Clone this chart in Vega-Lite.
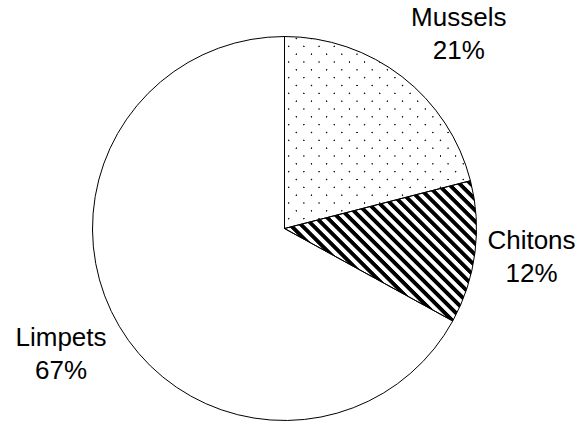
{
  "$schema": "https://vega.github.io/schema/vega-lite/v6.json",
  "autosize": "none",
  "width": 569,
  "height": 385,
  "padding": {"left": 0, "top": 36, "right": 12, "bottom": 2},
  "background": "white",
  "config": {"view": {"stroke": null}},
  "data": {
    "values": [
      {"taxon": "Mussels", "share": 21},
      {"taxon": "Chitons", "share": 12},
      {"taxon": "Limpets", "share": 67}
    ]
  },
  "transform": [
    {"window": [{"op": "row_number", "as": "n"}]},
    {"calculate": "datum.taxon + '\\n' + format(datum.share, 'd') + '%'", "as": "label"}
  ],
  "encoding": {
    "theta": {"field": "share", "type": "quantitative", "stack": true},
    "order": {"field": "n", "type": "quantitative"},
    "detail": {"field": "taxon", "type": "nominal"}
  },
  "layer": [
    {
      "mark": {"type": "arc", "outerRadius": 192, "strokeWidth": 0},
      "encoding": {
        "fill": {
          "condition": [
            {
              "test": "datum.taxon === 'Chitons'",
              "value": {
                "gradient": "linear",
                "x1": 0, "y1": 1, "x2": 1.1283, "y2": 0.1755,
                "stops": [
                  {"offset": 0, "color": "#000"}, {"offset": 0.0133, "color": "#000"}, {"offset": 0.0167, "color": "#fff"}, {"offset": 0.03, "color": "#fff"},
                  {"offset": 0.0333, "color": "#000"}, {"offset": 0.0466, "color": "#000"}, {"offset": 0.05, "color": "#fff"}, {"offset": 0.0633, "color": "#fff"},
                  {"offset": 0.0667, "color": "#000"}, {"offset": 0.08, "color": "#000"}, {"offset": 0.0834, "color": "#fff"}, {"offset": 0.0967, "color": "#fff"},
                  {"offset": 0.1, "color": "#000"}, {"offset": 0.1133, "color": "#000"}, {"offset": 0.1167, "color": "#fff"}, {"offset": 0.13, "color": "#fff"},
                  {"offset": 0.1333, "color": "#000"}, {"offset": 0.1466, "color": "#000"}, {"offset": 0.15, "color": "#fff"}, {"offset": 0.1633, "color": "#fff"},
                  {"offset": 0.1667, "color": "#000"}, {"offset": 0.18, "color": "#000"}, {"offset": 0.1834, "color": "#fff"}, {"offset": 0.1967, "color": "#fff"},
                  {"offset": 0.2, "color": "#000"}, {"offset": 0.2133, "color": "#000"}, {"offset": 0.2167, "color": "#fff"}, {"offset": 0.23, "color": "#fff"},
                  {"offset": 0.2333, "color": "#000"}, {"offset": 0.2466, "color": "#000"}, {"offset": 0.25, "color": "#fff"}, {"offset": 0.2633, "color": "#fff"},
                  {"offset": 0.2667, "color": "#000"}, {"offset": 0.28, "color": "#000"}, {"offset": 0.2834, "color": "#fff"}, {"offset": 0.2967, "color": "#fff"},
                  {"offset": 0.3, "color": "#000"}, {"offset": 0.3133, "color": "#000"}, {"offset": 0.3167, "color": "#fff"}, {"offset": 0.33, "color": "#fff"},
                  {"offset": 0.3333, "color": "#000"}, {"offset": 0.3466, "color": "#000"}, {"offset": 0.35, "color": "#fff"}, {"offset": 0.3633, "color": "#fff"},
                  {"offset": 0.3667, "color": "#000"}, {"offset": 0.38, "color": "#000"}, {"offset": 0.3834, "color": "#fff"}, {"offset": 0.3967, "color": "#fff"},
                  {"offset": 0.4, "color": "#000"}, {"offset": 0.4133, "color": "#000"}, {"offset": 0.4167, "color": "#fff"}, {"offset": 0.43, "color": "#fff"},
                  {"offset": 0.4333, "color": "#000"}, {"offset": 0.4466, "color": "#000"}, {"offset": 0.45, "color": "#fff"}, {"offset": 0.4633, "color": "#fff"},
                  {"offset": 0.4667, "color": "#000"}, {"offset": 0.48, "color": "#000"}, {"offset": 0.4834, "color": "#fff"}, {"offset": 0.4967, "color": "#fff"},
                  {"offset": 0.5, "color": "#000"}, {"offset": 0.5133, "color": "#000"}, {"offset": 0.5167, "color": "#fff"}, {"offset": 0.53, "color": "#fff"},
                  {"offset": 0.5333, "color": "#000"}, {"offset": 0.5466, "color": "#000"}, {"offset": 0.55, "color": "#fff"}, {"offset": 0.5633, "color": "#fff"},
                  {"offset": 0.5667, "color": "#000"}, {"offset": 0.58, "color": "#000"}, {"offset": 0.5834, "color": "#fff"}, {"offset": 0.5967, "color": "#fff"},
                  {"offset": 0.6, "color": "#000"}, {"offset": 0.6133, "color": "#000"}, {"offset": 0.6167, "color": "#fff"}, {"offset": 0.63, "color": "#fff"},
                  {"offset": 0.6333, "color": "#000"}, {"offset": 0.6466, "color": "#000"}, {"offset": 0.65, "color": "#fff"}, {"offset": 0.6633, "color": "#fff"},
                  {"offset": 0.6667, "color": "#000"}, {"offset": 0.68, "color": "#000"}, {"offset": 0.6834, "color": "#fff"}, {"offset": 0.6967, "color": "#fff"},
                  {"offset": 0.7, "color": "#000"}, {"offset": 0.7133, "color": "#000"}, {"offset": 0.7167, "color": "#fff"}, {"offset": 0.73, "color": "#fff"},
                  {"offset": 0.7333, "color": "#000"}, {"offset": 0.7466, "color": "#000"}, {"offset": 0.75, "color": "#fff"}, {"offset": 0.7633, "color": "#fff"},
                  {"offset": 0.7667, "color": "#000"}, {"offset": 0.78, "color": "#000"}, {"offset": 0.7834, "color": "#fff"}, {"offset": 0.7967, "color": "#fff"},
                  {"offset": 0.8, "color": "#000"}, {"offset": 0.8133, "color": "#000"}, {"offset": 0.8167, "color": "#fff"}, {"offset": 0.83, "color": "#fff"},
                  {"offset": 0.8333, "color": "#000"}, {"offset": 0.8466, "color": "#000"}, {"offset": 0.85, "color": "#fff"}, {"offset": 0.8633, "color": "#fff"},
                  {"offset": 0.8667, "color": "#000"}, {"offset": 0.88, "color": "#000"}, {"offset": 0.8834, "color": "#fff"}, {"offset": 0.8967, "color": "#fff"},
                  {"offset": 0.9, "color": "#000"}, {"offset": 0.9133, "color": "#000"}, {"offset": 0.9167, "color": "#fff"}, {"offset": 0.93, "color": "#fff"},
                  {"offset": 0.9333, "color": "#000"}, {"offset": 0.9466, "color": "#000"}, {"offset": 0.95, "color": "#fff"}, {"offset": 0.9633, "color": "#fff"},
                  {"offset": 0.9667, "color": "#000"}, {"offset": 0.98, "color": "#000"}, {"offset": 0.9834, "color": "#fff"}, {"offset": 0.9967, "color": "#fff"},
                  {"offset": 1, "color": "#000"}
                ]
              }
            },
            {"test": "datum.taxon === 'Mussels'", "value": "#1a1a1a"}
          ],
          "value": "#fff"
        }
      }
    },
    {
      "mark": {"type": "arc", "outerRadius": 192, "strokeWidth": 0},
      "encoding": {
        "fill": {
          "condition": {
            "test": "datum.taxon === 'Mussels'",
            "value": {
              "gradient": "linear",
              "x1": 0, "y1": 0, "x2": 1, "y2": 1,
              "stops": [
                {"offset": 0, "color": "#fff"}, {"offset": 0.033, "color": "#fff"}, {"offset": 0.0356, "color": "rgba(255,255,255,0)"}, {"offset": 0.0382, "color": "rgba(255,255,255,0)"},
                {"offset": 0.0408, "color": "#fff"}, {"offset": 0.0738, "color": "#fff"}, {"offset": 0.0764, "color": "rgba(255,255,255,0)"}, {"offset": 0.079, "color": "rgba(255,255,255,0)"},
                {"offset": 0.0816, "color": "#fff"}, {"offset": 0.1146, "color": "#fff"}, {"offset": 0.1172, "color": "rgba(255,255,255,0)"}, {"offset": 0.1198, "color": "rgba(255,255,255,0)"},
                {"offset": 0.1224, "color": "#fff"}, {"offset": 0.1554, "color": "#fff"}, {"offset": 0.158, "color": "rgba(255,255,255,0)"}, {"offset": 0.1606, "color": "rgba(255,255,255,0)"},
                {"offset": 0.1632, "color": "#fff"}, {"offset": 0.1962, "color": "#fff"}, {"offset": 0.1988, "color": "rgba(255,255,255,0)"}, {"offset": 0.2014, "color": "rgba(255,255,255,0)"},
                {"offset": 0.204, "color": "#fff"}, {"offset": 0.237, "color": "#fff"}, {"offset": 0.2396, "color": "rgba(255,255,255,0)"}, {"offset": 0.2422, "color": "rgba(255,255,255,0)"},
                {"offset": 0.2448, "color": "#fff"}, {"offset": 0.2778, "color": "#fff"}, {"offset": 0.2804, "color": "rgba(255,255,255,0)"}, {"offset": 0.283, "color": "rgba(255,255,255,0)"},
                {"offset": 0.2856, "color": "#fff"}, {"offset": 0.3186, "color": "#fff"}, {"offset": 0.3212, "color": "rgba(255,255,255,0)"}, {"offset": 0.3238, "color": "rgba(255,255,255,0)"},
                {"offset": 0.3264, "color": "#fff"}, {"offset": 0.3594, "color": "#fff"}, {"offset": 0.362, "color": "rgba(255,255,255,0)"}, {"offset": 0.3646, "color": "rgba(255,255,255,0)"},
                {"offset": 0.3672, "color": "#fff"}, {"offset": 0.4002, "color": "#fff"}, {"offset": 0.4028, "color": "rgba(255,255,255,0)"}, {"offset": 0.4054, "color": "rgba(255,255,255,0)"},
                {"offset": 0.408, "color": "#fff"}, {"offset": 0.441, "color": "#fff"}, {"offset": 0.4436, "color": "rgba(255,255,255,0)"}, {"offset": 0.4462, "color": "rgba(255,255,255,0)"},
                {"offset": 0.4488, "color": "#fff"}, {"offset": 0.4818, "color": "#fff"}, {"offset": 0.4844, "color": "rgba(255,255,255,0)"}, {"offset": 0.487, "color": "rgba(255,255,255,0)"},
                {"offset": 0.4896, "color": "#fff"}, {"offset": 0.5226, "color": "#fff"}, {"offset": 0.5252, "color": "rgba(255,255,255,0)"}, {"offset": 0.5278, "color": "rgba(255,255,255,0)"},
                {"offset": 0.5304, "color": "#fff"}, {"offset": 0.5634, "color": "#fff"}, {"offset": 0.566, "color": "rgba(255,255,255,0)"}, {"offset": 0.5686, "color": "rgba(255,255,255,0)"},
                {"offset": 0.5712, "color": "#fff"}, {"offset": 0.6042, "color": "#fff"}, {"offset": 0.6068, "color": "rgba(255,255,255,0)"}, {"offset": 0.6094, "color": "rgba(255,255,255,0)"},
                {"offset": 0.612, "color": "#fff"}, {"offset": 0.645, "color": "#fff"}, {"offset": 0.6476, "color": "rgba(255,255,255,0)"}, {"offset": 0.6502, "color": "rgba(255,255,255,0)"},
                {"offset": 0.6528, "color": "#fff"}, {"offset": 0.6858, "color": "#fff"}, {"offset": 0.6884, "color": "rgba(255,255,255,0)"}, {"offset": 0.691, "color": "rgba(255,255,255,0)"},
                {"offset": 0.6936, "color": "#fff"}, {"offset": 0.7266, "color": "#fff"}, {"offset": 0.7292, "color": "rgba(255,255,255,0)"}, {"offset": 0.7318, "color": "rgba(255,255,255,0)"},
                {"offset": 0.7344, "color": "#fff"}, {"offset": 0.7674, "color": "#fff"}, {"offset": 0.77, "color": "rgba(255,255,255,0)"}, {"offset": 0.7726, "color": "rgba(255,255,255,0)"},
                {"offset": 0.7752, "color": "#fff"}, {"offset": 0.8082, "color": "#fff"}, {"offset": 0.8108, "color": "rgba(255,255,255,0)"}, {"offset": 0.8134, "color": "rgba(255,255,255,0)"},
                {"offset": 0.816, "color": "#fff"}, {"offset": 0.849, "color": "#fff"}, {"offset": 0.8516, "color": "rgba(255,255,255,0)"}, {"offset": 0.8542, "color": "rgba(255,255,255,0)"},
                {"offset": 0.8568, "color": "#fff"}, {"offset": 0.8898, "color": "#fff"}, {"offset": 0.8924, "color": "rgba(255,255,255,0)"}, {"offset": 0.895, "color": "rgba(255,255,255,0)"},
                {"offset": 0.8976, "color": "#fff"}, {"offset": 0.9306, "color": "#fff"}, {"offset": 0.9332, "color": "rgba(255,255,255,0)"}, {"offset": 0.9358, "color": "rgba(255,255,255,0)"},
                {"offset": 0.9384, "color": "#fff"}, {"offset": 0.9714, "color": "#fff"}, {"offset": 0.974, "color": "rgba(255,255,255,0)"}, {"offset": 0.9766, "color": "rgba(255,255,255,0)"},
                {"offset": 0.9792, "color": "#fff"}, {"offset": 1, "color": "#fff"}
              ]
            }
          },
          "value": "transparent"
        }
      }
    },
    {
      "mark": {"type": "arc", "outerRadius": 192, "strokeWidth": 0},
      "encoding": {
        "fill": {
          "condition": {
            "test": "datum.taxon === 'Mussels'",
            "value": {
              "gradient": "linear",
              "x1": 0, "y1": 1, "x2": 1, "y2": 0,
              "stops": [
                {"offset": 0, "color": "#fff"}, {"offset": 0.033, "color": "#fff"}, {"offset": 0.0356, "color": "rgba(255,255,255,0)"}, {"offset": 0.0382, "color": "rgba(255,255,255,0)"},
                {"offset": 0.0408, "color": "#fff"}, {"offset": 0.0738, "color": "#fff"}, {"offset": 0.0764, "color": "rgba(255,255,255,0)"}, {"offset": 0.079, "color": "rgba(255,255,255,0)"},
                {"offset": 0.0816, "color": "#fff"}, {"offset": 0.1146, "color": "#fff"}, {"offset": 0.1172, "color": "rgba(255,255,255,0)"}, {"offset": 0.1198, "color": "rgba(255,255,255,0)"},
                {"offset": 0.1224, "color": "#fff"}, {"offset": 0.1554, "color": "#fff"}, {"offset": 0.158, "color": "rgba(255,255,255,0)"}, {"offset": 0.1606, "color": "rgba(255,255,255,0)"},
                {"offset": 0.1632, "color": "#fff"}, {"offset": 0.1962, "color": "#fff"}, {"offset": 0.1988, "color": "rgba(255,255,255,0)"}, {"offset": 0.2014, "color": "rgba(255,255,255,0)"},
                {"offset": 0.204, "color": "#fff"}, {"offset": 0.237, "color": "#fff"}, {"offset": 0.2396, "color": "rgba(255,255,255,0)"}, {"offset": 0.2422, "color": "rgba(255,255,255,0)"},
                {"offset": 0.2448, "color": "#fff"}, {"offset": 0.2778, "color": "#fff"}, {"offset": 0.2804, "color": "rgba(255,255,255,0)"}, {"offset": 0.283, "color": "rgba(255,255,255,0)"},
                {"offset": 0.2856, "color": "#fff"}, {"offset": 0.3186, "color": "#fff"}, {"offset": 0.3212, "color": "rgba(255,255,255,0)"}, {"offset": 0.3238, "color": "rgba(255,255,255,0)"},
                {"offset": 0.3264, "color": "#fff"}, {"offset": 0.3594, "color": "#fff"}, {"offset": 0.362, "color": "rgba(255,255,255,0)"}, {"offset": 0.3646, "color": "rgba(255,255,255,0)"},
                {"offset": 0.3672, "color": "#fff"}, {"offset": 0.4002, "color": "#fff"}, {"offset": 0.4028, "color": "rgba(255,255,255,0)"}, {"offset": 0.4054, "color": "rgba(255,255,255,0)"},
                {"offset": 0.408, "color": "#fff"}, {"offset": 0.441, "color": "#fff"}, {"offset": 0.4436, "color": "rgba(255,255,255,0)"}, {"offset": 0.4462, "color": "rgba(255,255,255,0)"},
                {"offset": 0.4488, "color": "#fff"}, {"offset": 0.4818, "color": "#fff"}, {"offset": 0.4844, "color": "rgba(255,255,255,0)"}, {"offset": 0.487, "color": "rgba(255,255,255,0)"},
                {"offset": 0.4896, "color": "#fff"}, {"offset": 0.5226, "color": "#fff"}, {"offset": 0.5252, "color": "rgba(255,255,255,0)"}, {"offset": 0.5278, "color": "rgba(255,255,255,0)"},
                {"offset": 0.5304, "color": "#fff"}, {"offset": 0.5634, "color": "#fff"}, {"offset": 0.566, "color": "rgba(255,255,255,0)"}, {"offset": 0.5686, "color": "rgba(255,255,255,0)"},
                {"offset": 0.5712, "color": "#fff"}, {"offset": 0.6042, "color": "#fff"}, {"offset": 0.6068, "color": "rgba(255,255,255,0)"}, {"offset": 0.6094, "color": "rgba(255,255,255,0)"},
                {"offset": 0.612, "color": "#fff"}, {"offset": 0.645, "color": "#fff"}, {"offset": 0.6476, "color": "rgba(255,255,255,0)"}, {"offset": 0.6502, "color": "rgba(255,255,255,0)"},
                {"offset": 0.6528, "color": "#fff"}, {"offset": 0.6858, "color": "#fff"}, {"offset": 0.6884, "color": "rgba(255,255,255,0)"}, {"offset": 0.691, "color": "rgba(255,255,255,0)"},
                {"offset": 0.6936, "color": "#fff"}, {"offset": 0.7266, "color": "#fff"}, {"offset": 0.7292, "color": "rgba(255,255,255,0)"}, {"offset": 0.7318, "color": "rgba(255,255,255,0)"},
                {"offset": 0.7344, "color": "#fff"}, {"offset": 0.7674, "color": "#fff"}, {"offset": 0.77, "color": "rgba(255,255,255,0)"}, {"offset": 0.7726, "color": "rgba(255,255,255,0)"},
                {"offset": 0.7752, "color": "#fff"}, {"offset": 0.8082, "color": "#fff"}, {"offset": 0.8108, "color": "rgba(255,255,255,0)"}, {"offset": 0.8134, "color": "rgba(255,255,255,0)"},
                {"offset": 0.816, "color": "#fff"}, {"offset": 0.849, "color": "#fff"}, {"offset": 0.8516, "color": "rgba(255,255,255,0)"}, {"offset": 0.8542, "color": "rgba(255,255,255,0)"},
                {"offset": 0.8568, "color": "#fff"}, {"offset": 0.8898, "color": "#fff"}, {"offset": 0.8924, "color": "rgba(255,255,255,0)"}, {"offset": 0.895, "color": "rgba(255,255,255,0)"},
                {"offset": 0.8976, "color": "#fff"}, {"offset": 0.9306, "color": "#fff"}, {"offset": 0.9332, "color": "rgba(255,255,255,0)"}, {"offset": 0.9358, "color": "rgba(255,255,255,0)"},
                {"offset": 0.9384, "color": "#fff"}, {"offset": 0.9714, "color": "#fff"}, {"offset": 0.974, "color": "rgba(255,255,255,0)"}, {"offset": 0.9766, "color": "rgba(255,255,255,0)"},
                {"offset": 0.9792, "color": "#fff"}, {"offset": 1, "color": "#fff"}
              ]
            }
          },
          "value": "transparent"
        }
      }
    },
    {
      "mark": {"type": "arc", "outerRadius": 192, "fill": null, "stroke": "#000", "strokeWidth": 1}
    },
    {
      "mark": {
        "type": "text",
        "radius": 255,
        "font": "Liberation Sans",
        "fontSize": 26,
        "lineHeight": 33,
        "lineBreak": "\n",
        "align": "center",
        "baseline": "middle",
        "color": "#000",
        "dx": {"expr": "datum.taxon === 'Mussels' ? 18 : datum.taxon === 'Chitons' ? -6 : -4"},
        "dy": {"expr": "datum.taxon === 'Mussels' ? -9 : datum.taxon === 'Chitons' ? -19 : -20"}
      },
      "encoding": {
        "text": {"field": "label", "type": "nominal"}
      }
    }
  ]
}
